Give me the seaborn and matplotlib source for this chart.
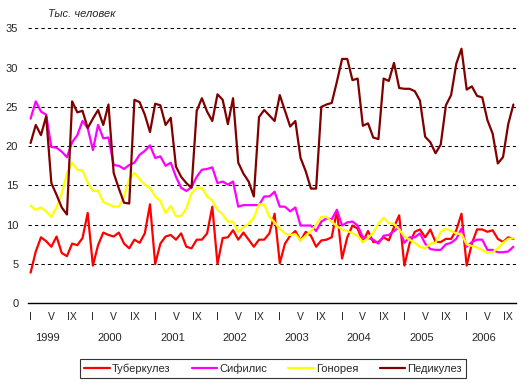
import numpy as np
import pandas as pd
import matplotlib
matplotlib.use("Agg")
import matplotlib.pyplot as plt
import seaborn as sns

years = ["1999", "2000", "2001", "2002", "2003", "2004", "2005", "2006"]
month_labels = ["I", "V", "IX"]
series_names = ["Туберкулез", "Сифилис", "Гонорея", "Педикулез"]
series_colors = ["#FF0000", "#FF00FF", "#FFFF00", "#800000"]

tuberculosis = [3.9, 6.6, 8.4, 7.9, 7.2, 8.5, 6.4, 6.0, 7.6, 7.4, 8.3, 11.5,
                4.8, 7.4, 9.0, 8.7, 8.5, 9.0, 7.6, 7.0, 8.1, 7.7, 8.9, 12.6,
                5.0, 7.6, 8.5, 8.7, 8.1, 8.9, 7.2, 7.0, 8.1, 8.1, 8.9, 12.3,
                5.0, 8.3, 8.4, 9.3, 8.1, 9.0, 8.1, 7.2, 8.1, 8.1, 8.9, 11.4,
                5.1, 7.6, 8.6, 9.2, 8.0, 9.1, 8.6, 7.2, 8.0, 8.1, 8.4, 11.8,
                5.7, 8.4, 9.9, 9.5, 7.8, 9.2, 7.8, 7.8, 8.4, 8.0, 9.7, 11.2,
                4.8, 7.6, 9.1, 9.4, 8.4, 9.4, 7.8, 7.8, 8.2, 8.2, 9.3, 11.4,
                4.8, 7.6, 9.4, 9.4, 9.1, 9.3, 8.2, 7.8, 8.4, 8.2]

syphilis = [23.5, 25.7, 24.4, 24.0, 19.9, 19.8, 19.3, 18.6, 20.5, 21.4, 23.2, 22.3,
            19.5, 22.7, 21.0, 21.1, 17.6, 17.5, 17.1, 17.6, 17.9, 18.9, 19.4, 20.1,
            18.5, 18.7, 17.5, 17.9, 16.1, 14.7, 14.3, 14.8, 16.1, 17.0, 17.1, 17.3,
            15.3, 15.5, 15.1, 15.5, 12.3, 12.5, 12.5, 12.5, 12.5, 13.6, 13.6, 14.2,
            12.3, 12.3, 11.7, 12.2, 9.9, 9.9, 9.9, 9.2, 10.4, 10.8, 10.7, 11.9,
            9.9, 10.3, 10.4, 9.9, 8.4, 8.3, 8.1, 7.6, 8.6, 8.7, 9.2, 9.7,
            7.7, 8.4, 8.4, 8.9, 7.6, 6.9, 6.8, 6.8, 7.5, 7.7, 8.2, 9.5,
            7.2, 7.8, 8.1, 8.1, 6.8, 6.8, 6.5, 6.5, 6.6, 7.2]

gonorrhea = [12.4, 11.9, 12.2, 11.7, 11.0, 12.2, 14.0, 16.5, 17.9, 17.0, 16.9, 15.4,
             14.3, 14.3, 12.9, 12.6, 12.3, 12.3, 13.6, 15.8, 16.6, 15.8, 15.1, 14.7,
             13.6, 13.0, 11.5, 12.4, 11.1, 11.1, 12.1, 14.0, 14.7, 14.7, 13.6, 13.1,
             11.9, 11.3, 10.4, 10.4, 9.1, 9.7, 10.1, 10.9, 12.6, 12.6, 11.0, 10.3,
             9.5, 8.9, 8.7, 8.8, 8.0, 8.6, 9.2, 10.0, 11.0, 11.0, 10.4, 9.8,
             9.4, 9.2, 8.9, 8.6, 7.8, 8.3, 9.0, 10.1, 10.9, 10.2, 10.1, 9.4,
             8.5, 8.1, 7.7, 7.2, 7.0, 7.6, 7.7, 9.1, 9.5, 9.2, 8.9, 8.8,
             7.5, 7.3, 7.1, 6.8, 6.4, 6.5, 7.0, 7.7, 8.2, 8.3]

pediculosis = [20.4, 22.7, 21.4, 23.8, 15.3, 13.8, 12.2, 11.3, 25.7, 24.3, 24.5, 22.3,
               23.5, 24.6, 22.7, 25.3, 16.6, 14.6, 12.8, 12.7, 25.9, 25.6, 24.0, 21.8,
               25.4, 25.2, 22.7, 23.6, 17.4, 16.1, 15.3, 14.7, 24.5, 26.1, 24.4, 23.2,
               26.6, 25.9, 22.8, 26.1, 17.9, 16.5, 15.5, 13.6, 23.7, 24.6, 23.9, 23.2,
               26.5, 24.5, 22.5, 23.2, 18.5, 16.8, 14.6, 14.6, 25.0, 25.3, 25.5, 28.2,
               31.1, 31.1, 28.4, 28.6, 22.6, 22.9, 21.1, 20.9, 28.6, 28.3, 30.6, 27.4,
               27.3, 27.3, 27.0, 25.8, 21.2, 20.5, 19.1, 20.2, 25.2, 26.5, 30.5, 32.4,
               27.2, 27.6, 26.4, 26.2, 23.3, 21.6, 17.8, 18.6, 22.8, 25.3]

all_series = [tuberculosis, syphilis, gonorrhea, pediculosis]
frames = []
for name, vals in zip(series_names, all_series):
    frames.append(pd.DataFrame({"month": np.arange(len(vals)), "value": vals, "series": name}))
df = pd.concat(frames, ignore_index=True)

sns.set_style("white")
plt.rcParams["font.family"] = ["Liberation Sans", "DejaVu Sans"]

fig = plt.figure(figsize=(5.31, 3.90), dpi=100)
ax = fig.add_axes([28 / 531, 1 - 303.3 / 390, 488 / 531, 275 / 390])

n = len(tuberculosis)
for y in range(5, 40, 5):
    ax.axhline(y, color="black", lw=0.75, linestyle=(0, (3.2, 3.0)), zorder=1)

sns.lineplot(data=df, x="month", y="value", hue="series", hue_order=series_names,
             palette=dict(zip(series_names, series_colors)), linewidth=1.6,
             ax=ax, legend=True, zorder=3)

ax.set_xlim(-0.5, n - 0.5)
ax.set_ylim(0, 35)
for s in ["top", "right", "left"]:
    ax.spines[s].set_visible(False)
ax.spines["bottom"].set_color("black")
ax.spines["bottom"].set_linewidth(1.0)

ax.set_yticks(range(0, 40, 5))
ax.set_yticklabels([str(v) for v in range(0, 40, 5)], fontsize=8)
ticks = []
labels = []
for k in range(len(years)):
    for j, m in enumerate([0, 4, 8]):
        ticks.append(12 * k + m)
        labels.append(month_labels[j])
ax.set_xticks(ticks)
ax.set_xticklabels(labels, fontsize=7.5)
ax.tick_params(axis="x", length=0, pad=6)
ax.tick_params(axis="y", length=0, pad=7)
ax.set_xlabel("")
ax.set_ylabel("")

trans = matplotlib.transforms.blended_transform_factory(ax.transData, ax.transAxes)
for k, yr in enumerate(years):
    ax.text(12 * k + 3.3, -0.126, yr, transform=trans, ha="center", va="center", fontsize=8)

fig.text(48 / 531, 1 - 14 / 390, "Тыс. человек", fontsize=8, style="italic", ha="left", va="center")

ax.get_legend().remove()
handles = [matplotlib.lines.Line2D([], [], color=c, lw=1.6) for c in series_colors]
leg = fig.legend(handles, series_names, loc="center", bbox_to_anchor=(273 / 531, 1 - 368.5 / 390),
                 ncol=4, fontsize=8, frameon=True, fancybox=False, edgecolor="black",
                 handlelength=2.3, handletextpad=0.2, columnspacing=1.9, borderpad=0.35)
leg.get_frame().set_linewidth(0.8)

fig.savefig("out.png", dpi=100)
